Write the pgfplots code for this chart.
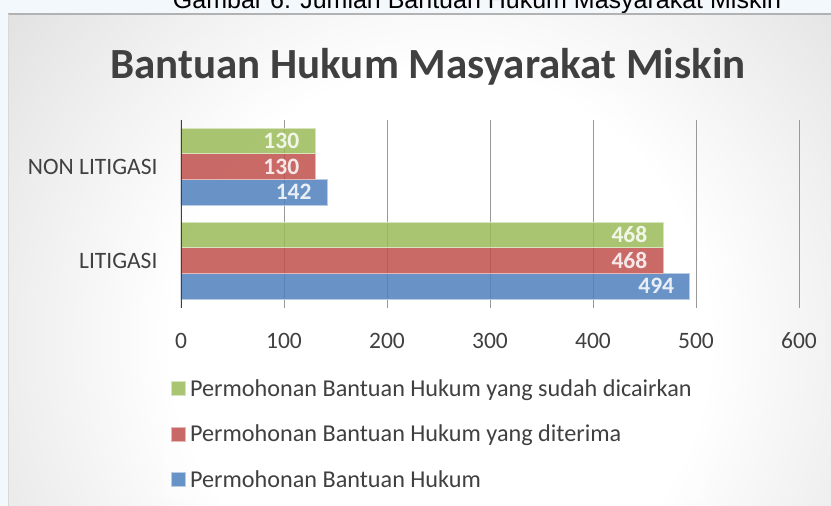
\documentclass[border=0pt]{standalone}
\usepackage{pgfplots}
\pgfplotsset{compat=1.18}
\usepackage{fontspec}
\setmainfont{Carlito}
\newfontfamily\arialf{Liberation Sans}
\definecolor{cgreen}{HTML}{9BBB59}
\definecolor{cred}{HTML}{C0504D}
\definecolor{cblue}{HTML}{4F81BD}
\definecolor{ctext}{HTML}{404040}
\definecolor{outerbg}{HTML}{F3F8FC}
\pgfdeclareradialshading{bgshade}{\pgfpoint{0bp}{0bp}}{color(0bp)=(white); color(12bp)=(white); color(28bp)=(black!15); color(37.5bp)=(black!24); color(48bp)=(black!29); color(50bp)=(black!30)}
\begin{document}
\begin{tikzpicture}[x=1pt,y=1pt]
\useasboundingbox (0,0) rectangle (831,-506);
\clip (0,0) rectangle (831,-506);
\fill[outerbg] (0,0) rectangle (831,-506);
\node[anchor=base, inner sep=0pt, font=\arialf\fontsize{25}{29}\selectfont] at (477,-9) {Gambar 6. Jumlah Bantuan Hukum Masyarakat Miskin};
\begin{scope}
\clip (8,-14) rectangle (840,-520);
\shade[shading=bgshade] (-120,220) rectangle (1000,-900);
\end{scope}
\draw[black!30, line width=1.2pt] (8,-14) -- (840,-14);
\draw[black!15, line width=1pt] (8.5,-14) -- (8.5,-520);
\node[anchor=base, inner sep=0pt, text=ctext, font=\bfseries\fontsize{43}{49}\selectfont] at (428,-78) {Bantuan Hukum Masyarakat Miskin};
\begin{axis}[
  at={(181pt,-307.5pt)}, anchor=south west,
  scale only axis, width=618pt, height=188pt,
  xbar, xmin=0, xmax=600, ymin=-0.5, ymax=1.5,
  bar width=0.273,
  ytick={0,1}, yticklabels={LITIGASI, NON LITIGASI},
  xtick={0,100,...,600},
  axis x line=bottom, axis y line=left,
  x axis line style={draw=none, -},
  y axis line style={draw=none, -},
  xmajorgrids, major grid style={black!40, line width=0.9pt},
  major tick length=0pt,
  tick label style={font=\fontsize{23.5}{28}\selectfont, text=ctext},
  /pgf/number format/assume math mode=true,
  xticklabel style={yshift=-22pt},
  yticklabel style={xshift=-20pt},
  point meta=x,
  nodes near coords,
  every node near coord/.append style={font=\bfseries\fontsize{23.5}{28}\selectfont, text=white, anchor=east, xshift=-12pt},
  reverse legend,
  legend cell align=left,
  legend style={at={(axis description cs:-0.029,-0.335)}, anchor=north west, draw=none, fill=white, fill opacity=0.35, text opacity=1, font=\fontsize{24.2}{28}\selectfont, text=ctext, row sep=23pt, inner xsep=8pt, inner ysep=7pt, nodes={inner xsep=4pt}},
  legend image code/.code={\draw[#1, fill opacity=0.85, draw opacity=1, line width=0.8pt] (0pt,-7pt) rectangle (14pt,7pt);},
]
\addplot[fill=cblue, fill opacity=0.85, draw=cblue!40!white, line width=0.8pt, bar shift=-0.273] coordinates {(494,0) (142,1)};
\addplot[fill=cred, fill opacity=0.85, draw=cred!40!white, line width=0.8pt, bar shift=0] coordinates {(468,0) (130,1)};
\addplot[fill=cgreen, fill opacity=0.85, draw=cgreen!40!white, line width=0.8pt, bar shift=0.273] coordinates {(468,0) (130,1)};
\legend{Permohonan Bantuan Hukum, Permohonan Bantuan Hukum yang diterima, Permohonan Bantuan Hukum yang sudah dicairkan}
\draw[ctext, line width=2.6pt] (axis cs:0,-0.5) -- (axis cs:0,1.5);
\end{axis}
\end{tikzpicture}
\end{document}
